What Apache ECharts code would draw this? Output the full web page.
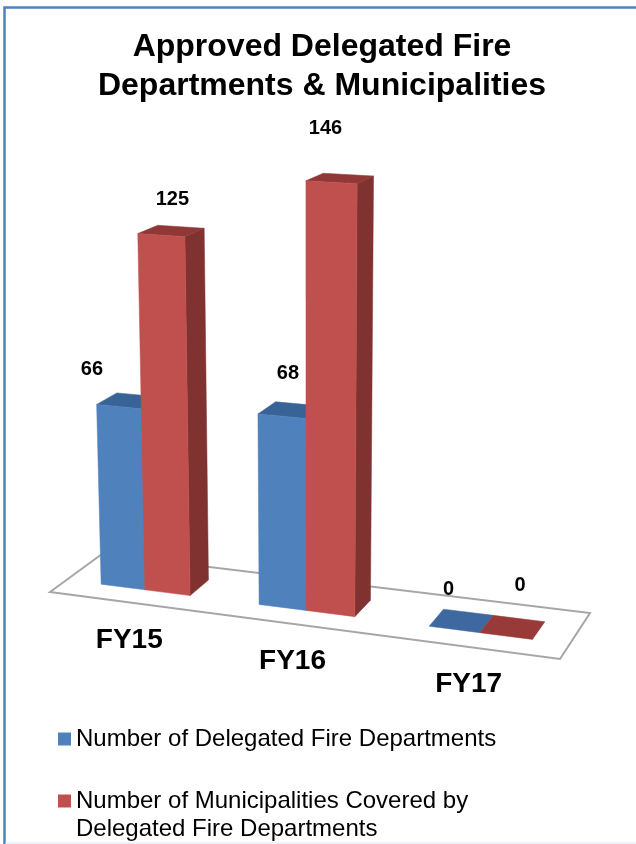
<!DOCTYPE html>
<html>
<head>
<meta charset="utf-8">
<style>html,body{margin:0;padding:0;background:#fff}#c{width:636px;height:844px}</style>
<script src="https://cdn.jsdelivr.net/npm/echarts@6/dist/echarts.min.js"></script>
</head>
<body>
<div id="c"></div>
<script>
var categories = ['FY15', 'FY16', 'FY17'];
var delegatedDepartments = [66, 68, 0];
var municipalitiesCovered = [125, 146, 0];
var seriesNames = ['Number of Delegated Fire Departments', 'Number of Municipalities Covered by Delegated Fire Departments'];
var titleText = 'Approved Delegated Fire\nDepartments & Municipalities';

// value labels were nudged by hand in the original, relative to the bar's front top edge
var labelNudge = [
  [[-27, -37], [6, -43], [-6, -40]],
  [[11, -36], [-6, -54], [14, -51]]
];

var FONT = '"Liberation Sans", Arial, sans-serif';
var AXIS_MIN = 5, AXIS_MAX = 155;
var FLOOR = { x00: 50, y00: 592, x10: 560, y10: 659, x11: 590, y11: 613, x01: 102, y01: 554 };

// perspective map of the floor plane: u runs 0..3 across categories, v 0..1 into depth
var H = (function (q) {
  var dx1 = q.x10 - q.x11, dx2 = q.x01 - q.x11, sx = q.x00 - q.x10 + q.x11 - q.x01;
  var dy1 = q.y10 - q.y11, dy2 = q.y01 - q.y11, sy = q.y00 - q.y10 + q.y11 - q.y01;
  var den = dx1 * dy2 - dx2 * dy1;
  var g = (sx * dy2 - dx2 * sy) / den, h = (dx1 * sy - sx * dy1) / den;
  return { a: q.x10 - q.x00 + g * q.x10, b: q.x01 - q.x00 + h * q.x01, c: q.x00,
           d: q.y10 - q.y00 + g * q.y10, e: q.y01 - q.y00 + h * q.y01, f: q.y00, g: g, h: h };
})(FLOOR);
function floorPt(u, v) {
  var s = u / categories.length, w = H.g * s + H.h * v + 1;
  return [(H.a * s + H.b * v + H.c) / w, (H.d * s + H.e * v + H.f) / w];
}
function raised(u, v, val, api) {
  var p = floorPt(u, v);
  var k = 1 + (p[1] - 598) * 0.00127;
  var clamped = Math.max(val, AXIS_MIN);
  var h = (api.coord([0, AXIS_MIN])[1] - api.coord([0, clamped])[1]) * k;
  return [p[0] + (p[0] - 310) * 0.00012 * h, p[1] - h];
}
function face(points, fill) {
  return { type: 'polygon', shape: { points: points }, style: { fill: fill, stroke: fill, lineWidth: 0.5 } };
}
var BAR_SPAN = [[0.228, 0.512], [0.512, 0.80]], V_FRONT = 0.31, V_BACK = 0.70;

function barRenderer(idx, colors) {
  return function (params, api) {
    var c = api.value(0), val = api.value(1);
    var u0 = c + BAR_SPAN[idx][0], u1 = c + BAR_SPAN[idx][1];
    var fl = floorPt(u0, V_FRONT), fr = floorPt(u1, V_FRONT), br = floorPt(u1, V_BACK);
    var tfl = raised(u0, V_FRONT, val, api), tfr = raised(u1, V_FRONT, val, api);
    var tbr = raised(u1, V_BACK, val, api), tbl = raised(u0, V_BACK, val, api);
    var kids = [];
    if (val > AXIS_MIN) kids.push(face([fr, br, tbr, tfr], colors.side));
    kids.push(face([tfl, tfr, tbr, tbl], val > AXIS_MIN ? colors.top : colors.flat));
    if (val > AXIS_MIN) kids.push(face([fl, fr, tfr, tfl], colors.front));
    var n = labelNudge[idx][c];
    kids.push({
      type: 'text', z2: 10,
      style: { x: (tfl[0] + tfr[0]) / 2 + n[0], y: (tfl[1] + tfr[1]) / 2 + n[1], text: String(val),
               align: 'center', verticalAlign: 'middle', fill: '#000', font: 'bold 20px ' + FONT }
    });
    return { type: 'group', children: kids };
  };
}
function floorRenderer(params, api) {
  var c = api.value(0), kids = [];
  if (c === 0) {
    kids.push({ type: 'polygon',
      shape: { points: [floorPt(0, 0), floorPt(3, 0), floorPt(3, 1), floorPt(0, 1)] },
      style: { fill: '#fff', stroke: '#a6a6a6', lineWidth: 2 } });
  }
  var p = floorPt(c + 0.5, 0);
  kids.push({ type: 'text', style: { x: p[0] + 2, y: p[1] + 38, text: categories[c],
    align: 'center', verticalAlign: 'middle', fill: '#000', font: 'bold 28px ' + FONT } });
  return { type: 'group', children: kids };
}

var chart = echarts.init(document.getElementById('c'), null, { renderer: 'canvas' });
chart.setOption({
  animation: false,
  backgroundColor: '#fff',
  title: { text: titleText, left: 317, textAlign: 'center', top: 23,
    textStyle: { fontFamily: FONT, fontWeight: 'bold', fontSize: 32, lineHeight: 39, color: '#000' } },
  grid: { left: 0, right: 0, top: 100, height: 450 },
  xAxis: { type: 'category', data: categories, show: false },
  yAxis: { type: 'value', min: AXIS_MIN, max: AXIS_MAX, show: false },
  legend: [
    { data: [seriesNames[0]], left: 53, top: 722, itemWidth: 13, itemHeight: 13, itemGap: 0, icon: 'rect',
      textStyle: { fontFamily: FONT, fontSize: 24, color: '#000', padding: [0, 0, 0, 0] } },
    { data: [seriesNames[1]], left: 53, top: 754, itemWidth: 13, itemHeight: 13, itemGap: 0, icon: 'rect',
      formatter: function () { return '\nNumber of Municipalities Covered by\nDelegated Fire Departments'; },
      textStyle: { fontFamily: FONT, fontSize: 24, lineHeight: 28, color: '#000', padding: [0, 0, 0, 0] } }
  ],
  graphic: [
    { type: 'polyline', silent: true, shape: { points: [[4.5, 844], [4.5, 7.5], [636, 7.5]] },
      style: { fill: null, stroke: '#4f81bd', lineWidth: 2.5 } },
    { type: 'line', silent: true, shape: { x1: 5, y1: 843, x2: 636, y2: 843 },
      style: { stroke: '#dce6f2', lineWidth: 1 } }
  ],
  series: [
    { type: 'custom', name: 'floor', coordinateSystem: 'cartesian2d', silent: true, renderItem: floorRenderer,
      data: categories.map(function (n, i) { return [i, AXIS_MIN]; }) },
    { type: 'custom', name: seriesNames[0], coordinateSystem: 'cartesian2d', itemStyle: { color: '#4f81bd' },
      renderItem: barRenderer(0, { front: '#4f81bd', side: '#386396', top: '#386396', flat: '#3d68a0' }),
      data: delegatedDepartments.map(function (v, i) { return [i, v]; }) },
    { type: 'custom', name: seriesNames[1], coordinateSystem: 'cartesian2d', itemStyle: { color: '#c0504d' },
      renderItem: barRenderer(1, { front: '#c0504d', side: '#7f3230', top: '#8f3836', flat: '#983a38' }),
      data: municipalitiesCovered.map(function (v, i) { return [i, v]; }) }
  ]
});
</script>
</body>
</html>
